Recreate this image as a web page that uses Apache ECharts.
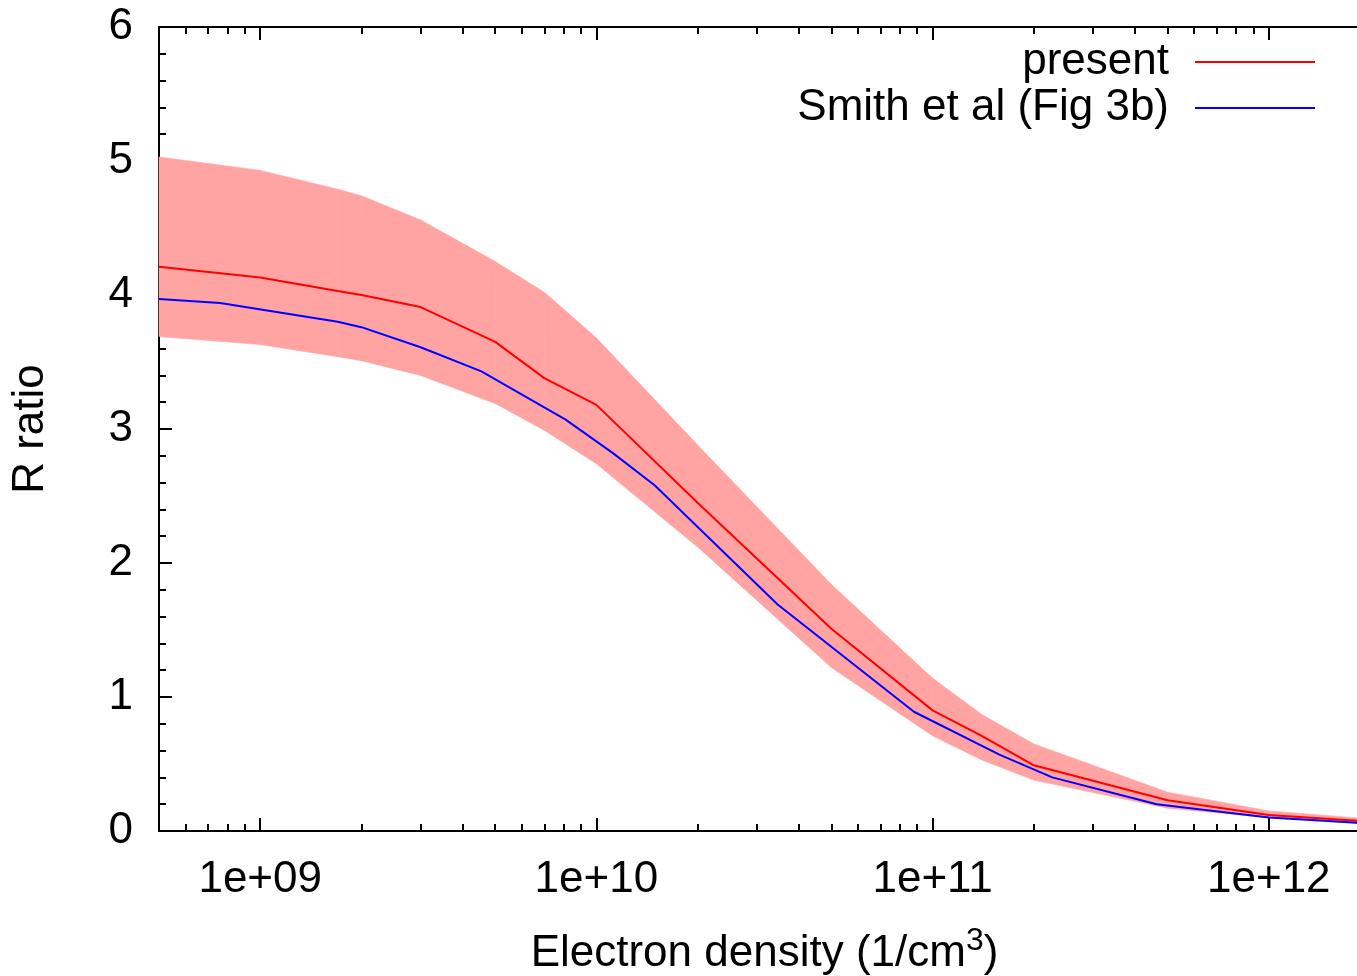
<!DOCTYPE html>
<html>
<head>
<meta charset="utf-8">
<title>R ratio vs electron density</title>
<script src="https://cdn.jsdelivr.net/npm/echarts@6/dist/echarts.min.js"></script>
<style>
  html, body { margin: 0; padding: 0; background: #fff; }
  #main { width: 1357px; height: 976px; }
</style>
</head>
<body>
<div id="main"></div>
<script>
// 数据：present 计算结果及误差带
var density = [5e8, 1e9, 1.7e9, 2e9, 3e9, 5e9, 7e9, 1e10, 2e10, 5e10, 1e11, 1.4e11, 2e11, 5e11, 1e12, 2e12];
var presentR = [4.21, 4.13, 4.03, 4.00, 3.91, 3.65, 3.38, 3.18, 2.45, 1.51, 0.90, 0.71, 0.49, 0.23, 0.12, 0.07];
var bandLow = [3.69, 3.63, 3.54, 3.51, 3.40, 3.19, 2.99, 2.74, 2.12, 1.22, 0.71, 0.53, 0.38, 0.17, 0.10, 0.05];
var bandHigh = [5.03, 4.93, 4.79, 4.74, 4.56, 4.25, 4.02, 3.68, 2.88, 1.84, 1.14, 0.87, 0.65, 0.29, 0.15, 0.09];

// Smith et al (Fig 3b)
var smithDensity = [5e8, 7.6e8, 1.7e9, 2e9, 3e9, 4.55e9, 8.1e9, 1.12e10, 1.49e10, 3.46e10, 8.8e10, 1.58e11, 2.27e11, 4.64e11, 1e12, 2e12];
var smithR = [3.97, 3.94, 3.80, 3.76, 3.61, 3.43, 3.07, 2.82, 2.58, 1.69, 0.89, 0.57, 0.40, 0.20, 0.10, 0.055];

// 刻度
var majorX = [1e9, 1e10, 1e11, 1e12];
var minorX = [];
[1e8, 1e9, 1e10, 1e11, 1e12].forEach(function (d) {
    for (var k = 2; k <= 9; k++) {
        var v = k * d;
        if (v >= 5e8 && v <= 2e12) minorX.push(v);
    }
});

function pairs(xs, ys) {
    var out = [];
    for (var i = 0; i < xs.length; i++) out.push([xs[i], ys[i]]);
    return out;
}
// 误差带：每一段一个四边形
var bandRows = [];
for (var i = 0; i < density.length - 1; i++) {
    bandRows.push([density[i], bandLow[i], bandHigh[i], density[i + 1], bandLow[i + 1], bandHigh[i + 1]]);
}

var font = 'Liberation Sans, Arial, Helvetica, sans-serif';
var bandColor = '#ffa3a3';
var myChart = echarts.init(document.getElementById('main'));

function xAxisDef(pos, vals, len, showLine, showLabel) {
    return {
        type: 'log',
        logBase: 10,
        min: 5e8,
        max: 2e12,
        position: pos,
        gridIndex: 0,
        axisLine: { show: showLine, onZero: false, lineStyle: { color: '#000', width: 2 } },
        axisTick: { show: true, inside: true, length: len, customValues: vals, lineStyle: { color: '#000', width: 2 } },
        axisLabel: {
            show: showLabel,
            customValues: majorX,
            margin: 27,
            fontSize: 44,
            fontFamily: font,
            color: '#000',
            formatter: function (v) {
                var e = Math.round(Math.log10(v));
                return '1e+' + (e < 10 ? '0' + e : e);
            }
        },
        splitLine: { show: false }
    };
}

var xBottom = xAxisDef('bottom', majorX, 13, true, true);
xBottom.name = 'Electron density (1/cm{sup|3})';
xBottom.nameLocation = 'middle';
xBottom.nameGap = 94;
xBottom.nameTextStyle = {
    fontSize: 44, fontFamily: font, color: '#000',
    rich: { sup: { fontSize: 32, fontFamily: font, color: '#000', padding: [0, 0, 26, 0] } }
};

function yAxisDef(pos, showLabel) {
    return {
        type: 'value',
        min: 0,
        max: 6,
        interval: 1,
        position: pos,
        axisLine: { show: true, onZero: false, lineStyle: { color: '#000', width: 2 } },
        axisTick: { show: true, inside: true, length: 13, lineStyle: { color: '#000', width: 2 } },
        minorTick: { show: true, splitNumber: 5, length: 7, lineStyle: { color: '#000', width: 2 } },
        axisLabel: { show: showLabel, margin: 26, fontSize: 44, fontFamily: font, color: '#000' },
        splitLine: { show: false }
    };
}
var yLeft = yAxisDef('left', true);
yLeft.name = 'R ratio';
yLeft.nameLocation = 'middle';
yLeft.nameGap = 106;
yLeft.nameTextStyle = { fontSize: 44, fontFamily: font, color: '#000' };

var option = {
    animation: false,
    backgroundColor: '#fff',
    grid: { left: 159, right: -13, top: 27, bottom: 145, outerBoundsMode: 'none' },
    legend: {
        orient: 'vertical',
        right: 37,
        top: 35,
        align: 'right',
        itemGap: 2,
        itemWidth: 120,
        itemHeight: 2,
        icon: 'rect',
        data: ['present', 'Smith et al (Fig 3b)'],
        textStyle: { fontSize: 44, fontFamily: font, color: '#000', padding: [0, 21, 0, 0] }
    },
    xAxis: [
        xBottom,
        xAxisDef('bottom', minorX, 7, false, false),
        xAxisDef('top', majorX, 13, true, false),
        xAxisDef('top', minorX, 7, false, false)
    ],
    yAxis: [yLeft, yAxisDef('right', false)],
    series: [
        {
            name: 'band',
            type: 'custom',
            silent: true,
            encode: { x: [0, 3], y: [1, 2, 4, 5] },
            renderItem: function (params, api) {
                var p = [
                    api.coord([api.value(0), api.value(1)]),
                    api.coord([api.value(3), api.value(4)]),
                    api.coord([api.value(3), api.value(5)]),
                    api.coord([api.value(0), api.value(2)])
                ];
                return {
                    type: 'polygon',
                    shape: { points: p },
                    style: { fill: bandColor, stroke: bandColor, lineWidth: 0.6 }
                };
            },
            data: bandRows
        },
        {
            name: 'present',
            type: 'line',
            symbol: 'none',
            color: '#ff0000',
            lineStyle: { color: '#ff0000', width: 2 },
            data: pairs(density, presentR)
        },
        {
            name: 'Smith et al (Fig 3b)',
            type: 'line',
            symbol: 'none',
            color: '#0000ff',
            lineStyle: { color: '#0000ff', width: 2 },
            data: pairs(smithDensity, smithR)
        }
    ]
};
myChart.setOption(option);
</script>
</body>
</html>
